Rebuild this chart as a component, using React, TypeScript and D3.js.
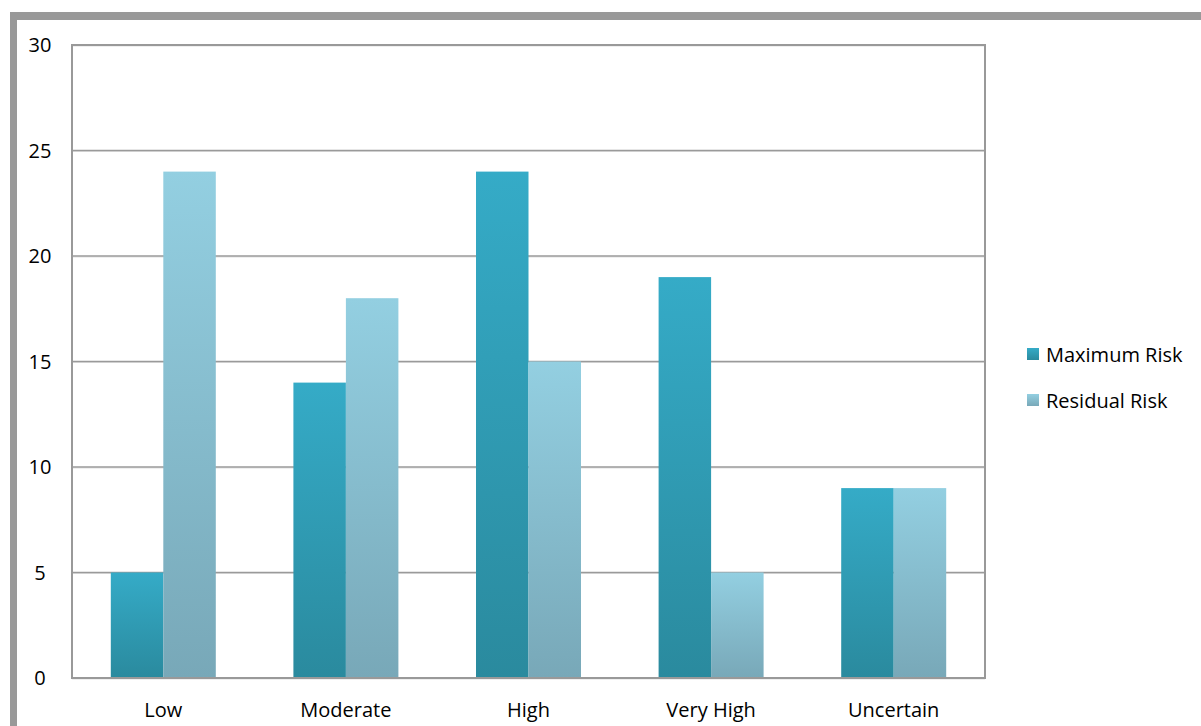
import React from "react";
import * as d3 from "d3";

const categories = ["Low", "Moderate", "High", "Very High", "Uncertain"];
const maximumRisk = [5, 14, 24, 19, 9];
const residualRisk = [24, 18, 15, 5, 9];
const seriesNames = ["Maximum Risk", "Residual Risk"];
const yTicks = [0, 5, 10, 15, 20, 25, 30];

const W = 1201;
const H = 726;
const plot = { left: 72, right: 985, top: 45, bottom: 678 };
const FONT = "'Open Sans', sans-serif";

export default function App() {
  const x = d3
    .scaleBand<string>()
    .domain(categories)
    .range([plot.left, plot.right])
    .paddingInner(0.425)
    .paddingOuter(0.2125);
  const x1 = d3.scaleBand<string>().domain(seriesNames).range([0, x.bandwidth()]);
  const y = d3.scaleLinear().domain([0, 30]).range([plot.bottom, plot.top]);
  const series = [maximumRisk, residualRisk];
  const gradIds = ["gMax", "gRes"];

  return (
    <svg
      width={W}
      height={H}
      style={{ position: "absolute", left: 0, top: 0, background: "#fff" }}
    >
      <defs>
        <linearGradient id="gMax" x1="0" y1="0" x2="0" y2="1">
          <stop offset="0" stopColor="#35abc7" />
          <stop offset="1" stopColor="#2a8a9e" />
        </linearGradient>
        <linearGradient id="gRes" x1="0" y1="0" x2="0" y2="1">
          <stop offset="0" stopColor="#93cfe1" />
          <stop offset="1" stopColor="#78a8b8" />
        </linearGradient>
      </defs>
      {/* outer gray frame */}
      <rect x={10} y={12} width={W - 10} height={8} fill="#999" />
      <rect x={10} y={12} width={7} height={H - 12} fill="#999" />

      {/* gridlines */}
      {yTicks.map((t) => (
        <g key={t}>
          <line
            x1={plot.left}
            x2={plot.right}
            y1={y(t) + 1}
            y2={y(t) + 1}
            stroke="#e0e0e0"
            strokeWidth={1}
          />
          <line
            x1={plot.left}
            x2={plot.right}
            y1={y(t)}
            y2={y(t)}
            stroke="#9a9a9a"
            strokeWidth={1.5}
          />
          <text
            x={40}
            y={y(t) + 7}
            textAnchor="middle"
            fontFamily={FONT}
            fontSize={20}
            fill="#000"
          >
            {t}
          </text>
        </g>
      ))}

      {/* bars */}
      {categories.map((c, i) => (
        <g key={c}>
          {series.map((s, j) => (
            <rect
              key={j}
              x={(x(c) as number) + (x1(seriesNames[j]) as number)}
              y={y(s[i])}
              width={x1.bandwidth()}
              height={y(0) - y(s[i])}
              fill={`url(#${gradIds[j]})`}
            />
          ))}
          <text
            x={(x(c) as number) + x.bandwidth() / 2}
            y={717}
            textAnchor="middle"
            fontFamily={FONT}
            fontSize={20}
            fill="#000"
          >
            {c}
          </text>
        </g>
      ))}

      {/* plot frame */}
      <rect
        x={plot.left}
        y={plot.top}
        width={plot.right - plot.left}
        height={plot.bottom - plot.top}
        fill="none"
        stroke="#999"
        strokeWidth={2}
      />

      {/* legend */}
      {seriesNames.map((n, j) => (
        <g key={n} transform={`translate(1027, ${348 + j * 46})`}>
          <rect width={12} height={12} fill={`url(#${gradIds[j]})`} />
          <text
            x={19}
            y={14}
            fontFamily={FONT}
            fontSize={20}
            fill="#000"
          >
            {n}
          </text>
        </g>
      ))}
    </svg>
  );
}
